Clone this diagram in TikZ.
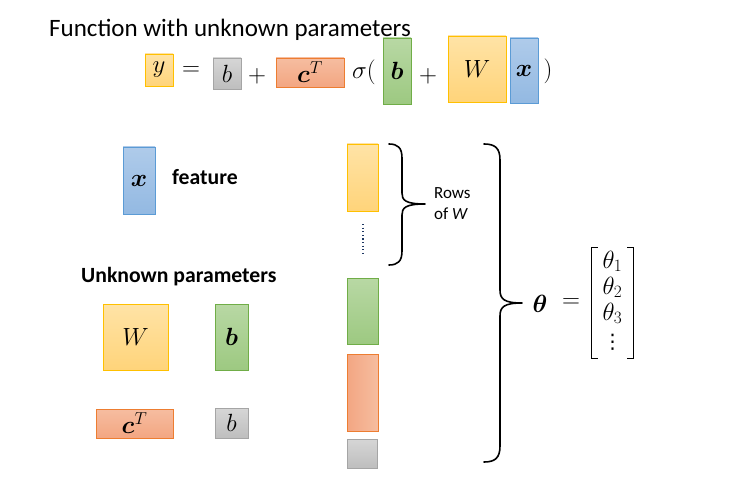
\documentclass[tikz,border=0pt]{standalone}
\usepackage{amsmath}
\usepackage{bm}
\usepackage{fontspec}
\setmainfont{Carlito}
\newfontfamily\dejavufam{DejaVu Sans}
\definecolor{yfillT}{HTML}{FFE3A6}
\definecolor{yfillB}{HTML}{FFD47A}
\definecolor{ydraw}{HTML}{FFC000}
\definecolor{gfillT}{HTML}{B8D8A4}
\definecolor{gfillB}{HTML}{9DC981}
\definecolor{gdraw}{HTML}{70AD47}
\definecolor{bfillT}{HTML}{AFCBEA}
\definecolor{bfillB}{HTML}{93B9E2}
\definecolor{bdraw}{HTML}{5B9BD5}
\definecolor{ofillT}{HTML}{F6BDA0}
\definecolor{ofillB}{HTML}{F3A682}
\definecolor{odraw}{HTML}{ED7D31}
\definecolor{sfillT}{HTML}{D6D6D6}
\definecolor{sfillB}{HTML}{BEBEBE}
\definecolor{sdraw}{HTML}{A5A5A5}
\definecolor{dotcol}{HTML}{1F3864}
\tikzset{
  pbox/.style={line width=0.8pt, inner sep=0pt, font=\fontsize{24}{28}\selectfont},
  ybox/.style={pbox, draw=ydraw, top color=yfillT, bottom color=yfillB},
  gbox/.style={pbox, draw=gdraw, top color=gfillT, bottom color=gfillB},
  bbox/.style={pbox, draw=bdraw, top color=bfillT, bottom color=bfillB},
  obox/.style={pbox, draw=odraw, top color=ofillT, bottom color=ofillB},
  ohbox/.style={pbox, draw=odraw, left color=ofillB, right color=ofillT},
  sbox/.style={pbox, draw=sdraw, top color=sfillT, bottom color=sfillB},
  eqtxt/.style={inner sep=0pt, font=\fontsize{24}{28}\selectfont},
  lbl/.style={inner sep=0pt, font=\fontsize{21.7}{26}\selectfont\bfseries},
  bracecurve/.style={line width=1.6pt, line cap=round, line join=round},
  brk/.style={line width=1.3pt},
}
\begin{document}
\begin{tikzpicture}[x=1pt,y=-1pt]
\useasboundingbox (0,0) rectangle (740,487);
% title
\node[anchor=west, inner sep=0pt, font=\fontsize{25}{30}\selectfont] (title) at (49,30) {Function with unknown parameters};
% equation
\node[ybox, minimum width=28, minimum height=32] (ey) at (159,70) {$y$};
\node[eqtxt] (eeq) at (191,71) {$=$};
\node[sbox, minimum width=28, minimum height=31] (eb) at (227,73.5) {$b$};
\node[eqtxt] (eplus1) at (257,76) {$+$};
\node[obox, minimum width=68, minimum height=29] (ec) at (310,72.5) {$\bm{c}^T$};
\node[eqtxt, anchor=west] (esig) at (352,72) {$\sigma($};
\node[gbox, minimum width=28, minimum height=66] (egb) at (397,71) {$\bm{b}$};
\node[eqtxt] (eplus2) at (428,76) {$+$};
\node[ybox, minimum width=58, minimum height=66] (eW) at (477,69) {$W$};
\node[bbox, minimum width=28, minimum height=65] (ex) at (524,70.5) {$\bm{x}$};
\node[eqtxt] (epar) at (548,71) {$)$};
% feature
\node[bbox, minimum width=32, minimum height=67] (fx) at (139,180.5) {$\bm{x}$};
\node[lbl, anchor=west] (feat) at (172,177) {feature};
% unknown parameters
\node[lbl, anchor=west] (unk) at (81,277) {Unknown parameters};
\node[ybox, minimum width=65, minimum height=66] (uW) at (135.5,337) {$W$};
\node[gbox, minimum width=33, minimum height=66] (ub) at (231.5,337) {$\bm{b}$};
\node[obox, minimum width=77, minimum height=29] (uc) at (134.5,423.5) {$\bm{c}^T$};
\node[sbox, minimum width=33, minimum height=30] (us) at (231.5,423) {$b$};
% stacked column
\node[ybox, minimum width=31, minimum height=67] (sW) at (362.5,177.5) {};
\coordinate (dtop) at (363,224);
\coordinate (dbot) at (363,253);
\draw[dotcol, line width=1.8pt, dash pattern=on 1.2pt off 2.4pt] (dtop) -- (dbot);
\node[gbox, minimum width=31, minimum height=66] (sb) at (362.5,311) {};
\node[ohbox, minimum width=31, minimum height=77] (sc) at (362.5,392.5) {};
\node[sbox, minimum width=30, minimum height=29] (ss) at (362,453.5) {};
% small brace
\draw[bracecurve] (389,144) .. controls (398,144) and (402,148) .. (402,158) -- (402,193)
  .. controls (402,200) and (405,204) .. (425,204)
  .. controls (405,204) and (402,208) .. (402,215) -- (402,251)
  .. controls (402,261) and (398,265) .. (389,265);
\node[anchor=west, inner sep=0pt, font=\fontsize{17}{21}\selectfont, align=left] (rows) at (434,204) {Rows\\of \textit{W}};
% big brace
\draw[bracecurve] (484,144) .. controls (495,144) and (500,148) .. (500,160) -- (500,290)
  .. controls (500,299) and (504,303) .. (522,303)
  .. controls (504,303) and (500,307) .. (500,316) -- (500,446)
  .. controls (500,458) and (495,462) .. (484,462);
\node[eqtxt] (theta) at (540,304) {$\bm{\theta}$};
\node[eqtxt] (teq) at (571,303) {$=$};
\node[inner sep=0pt, minimum width=41, minimum height=110, font=\fontsize{24}{26}\selectfont] (tvec) at (612.5,303) {$\begin{array}{@{}c@{}}\theta_1\\\theta_2\\\theta_3\\[2pt]\text{\dejavufam\fontsize{20}{22}\selectfont ⋮}\end{array}$};
\draw[brk] ([xshift=6pt]tvec.north west) -- (tvec.north west) -- (tvec.south west) -- ([xshift=6pt]tvec.south west);
\draw[brk] ([xshift=-6pt]tvec.north east) -- (tvec.north east) -- (tvec.south east) -- ([xshift=-6pt]tvec.south east);
\end{tikzpicture}
\end{document}
